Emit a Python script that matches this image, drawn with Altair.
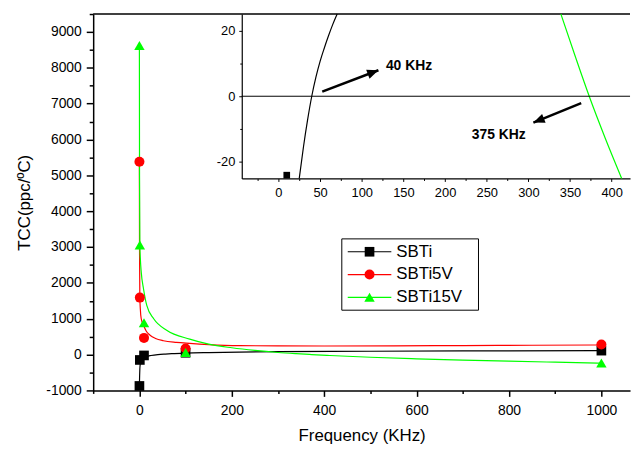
import altair as alt
import pandas as pd

FONT = "Liberation Sans"

series = ["SBTi", "SBTi5V", "SBTi15V"]
series_colors = ["#000000", "#ff0000", "#00ff00"]
series_shapes = ["square", "circle", "triangle-up"]
series_sizes = [95, 110, 145]

# measured points (frequency in KHz, TCC)
freq_points = [0.1, 1, 10, 100, 1000]
sbti_points = [-875, -150, -24, 50, 110]
sbti5v_points = [5380, 1590, 465, 170, 283]
sbti15v_points = [8620, 3060, 890, 55, -232]

# fitted curves (main panel)
sbti_curve_x = [0, 0.5, 1, 2, 4, 8, 15, 25, 40, 56, 70, 100, 150, 216, 300, 500, 700, 1000]
sbti_curve_y = [-875, -600, -400, -250, -140, -80, -50, -25, 0, 15, 25, 40, 55, 70, 80, 92, 101, 110]
sbti5v_curve_x = [0, 0.3, 1, 2, 4, 9, 15, 23, 35, 52, 80, 109, 150, 216, 300, 400, 550, 700, 850, 1000]
sbti5v_curve_y = [5380, 3000, 1600, 1280, 1000, 818, 650, 541, 450, 387, 340, 312, 280, 250, 242, 240, 243, 252, 260, 268]
sbti15v_curve_x = [0, 0.3, 1, 2, 4, 9, 16, 31, 59, 109, 150, 200, 250, 300, 339, 373, 412, 500, 600, 700, 800, 900, 1000]
sbti15v_curve_y = [8620, 5000, 3060, 2700, 2300, 1830, 1370, 1000, 680, 430, 290, 190, 115, 58, 25, 0, -25, -75, -118, -155, -185, -212, -238]

# curves seen in the inset (zoom around TCC = 0)
inset_sbti_x = [25, 30, 35, 40, 45, 50, 55, 60, 65, 70.5]
inset_sbti_y = [-25, -15.5, -7.2, 0, 5.8, 10.6, 14.6, 18.3, 21.7, 25]
inset_sbti15v_x = [339, 356, 373, 392, 412]
inset_sbti15v_y = [25, 12.3, 0, -12.6, -25]

# annotations in the inset
ann_labels = ["40 KHz", "375 KHz"]
ann_text_x = [129, 232]
ann_text_y = [9.2, -11.7]
arrow_x0 = [52.6, 363.4]
arrow_y0 = [1.4, -2.1]
arrow_x1 = [120, 306]
arrow_y1 = [7.9, -8.0]

main_x_ticks = list(range(-100, 1001, 100))
main_y_ticks = list(range(-1000, 9501, 500))
inset_x_ticks = list(range(-25, 401, 25))
inset_y_ticks = [-20, -10, 0, 10, 20]

# ---------- tables ----------
points_df = pd.concat([
    pd.DataFrame({"series": s, "freq": freq_points, "tcc": v})
    for s, v in zip(series, [sbti_points, sbti5v_points, sbti15v_points])
])
curves_df = pd.concat([
    pd.DataFrame({"series": s, "freq": cx, "tcc": cy})
    for s, cx, cy in zip(series,
                         [sbti_curve_x, sbti5v_curve_x, sbti15v_curve_x],
                         [sbti_curve_y, sbti5v_curve_y, sbti15v_curve_y])
])
inset_df = pd.concat([
    pd.DataFrame({"series": "SBTi", "freq": inset_sbti_x, "tcc": inset_sbti_y}),
    pd.DataFrame({"series": "SBTi15V", "freq": inset_sbti15v_x, "tcc": inset_sbti15v_y}),
])
ann_df = pd.DataFrame({"label": ann_labels, "tx": ann_text_x, "ty": ann_text_y,
                       "x0": arrow_x0, "y0": arrow_y0, "x1": arrow_x1, "y1": arrow_y1})
legend_df = pd.DataFrame({"series": series})
one_row = pd.DataFrame({"k": [0]})

W, H = 542, 380

color_enc = alt.Color("series:N", scale=alt.Scale(domain=series, range=series_colors), legend=None)
shape_enc = alt.Shape("series:N", scale=alt.Scale(domain=series, range=series_shapes), legend=None)
size_enc = alt.Size("series:N", scale=alt.Scale(domain=series, range=series_sizes), legend=None)

# ---------- main panel ----------
ax_mx = alt.Axis(title="Frequency (KHz)", values=main_x_ticks,
                 labelExpr="datum.value % 200 == 0 ? '' + datum.value : ''",
                 tickSize={"condition": {"test": "datum.value % 200 == 0", "value": 6}, "value": 3},
                 labelFontSize=14, labelPadding=7, titleFontSize=17, titlePadding=11,
                 domainWidth=1.5, tickWidth=1.5, labelFlush=False, labelOverlap=False)
ax_my = alt.Axis(title="TCC(ppc/ºC)", values=main_y_ticks,
                 labelExpr="datum.value % 1000 == 0 ? '' + datum.value : ''",
                 tickSize={"condition": {"test": "datum.value % 1000 == 0", "value": 7}, "value": 4},
                 labelFontSize=14, labelPadding=5, titleFontSize=17, titlePadding=12,
                 domainWidth=1.5, tickWidth=1.5, labelFlush=False, labelOverlap=False)
xs_main = alt.Scale(domain=[-100, 1062], nice=False, zero=False)
ys_main = alt.Scale(domain=[-1000, 9500], nice=False, zero=False)
xm = alt.X("freq:Q", scale=xs_main, axis=ax_mx)
ym = alt.Y("tcc:Q", scale=ys_main, axis=ax_my)

main_lines = alt.Chart(curves_df).mark_line(strokeWidth=1.2, interpolate="monotone").encode(
    x=xm, y=ym, color=color_enc)
main_points = alt.Chart(points_df).mark_point(filled=True, opacity=1).encode(
    x=xm, y=ym, color=color_enc, shape=shape_enc, size=size_enc)
top_border = alt.Chart(one_row).mark_rule(color="black", strokeWidth=1.5).encode(
    x=alt.value(0), x2=alt.value(W), y=alt.value(0))
main = alt.layer(main_lines, main_points, top_border)

# ---------- inset ----------
IN_LEFT, IN_BOTTOM = 150, 166
ax_ix = alt.Axis(title=None, orient="bottom", offset=-(H - IN_BOTTOM), values=inset_x_ticks,
                 labelExpr="datum.value % 50 == 0 ? '' + datum.value : ''",
                 tickSize={"condition": {"test": "datum.value % 50 == 0", "value": 3}, "value": 2},
                 labelFontSize=13, labelPadding=5, domainWidth=1.2, tickWidth=1,
                 labelFlush=False, labelOverlap=False)
ax_iy = alt.Axis(title=None, orient="left", offset=-IN_LEFT, values=inset_y_ticks,
                 labelExpr="datum.value % 20 == 0 ? '' + datum.value : ''",
                 tickSize={"condition": {"test": "datum.value % 20 == 0", "value": 3}, "value": 2},
                 labelFontSize=13, labelPadding=4, domainWidth=1.2, tickWidth=1,
                 labelFlush=False, labelOverlap=False)
xs_in = alt.Scale(domain=[-44, 422], range=[IN_LEFT, W], nice=False, zero=False)
ys_in = alt.Scale(domain=[-25, 25], range=[IN_BOTTOM, 0], nice=False, zero=False)

inset_lines = alt.Chart(inset_df).mark_line(strokeWidth=1.2, interpolate="monotone").encode(
    x=alt.X("freq:Q", scale=xs_in, axis=ax_ix), y=alt.Y("tcc:Q", scale=ys_in, axis=ax_iy),
    color=color_enc)
inset_points = alt.Chart(points_df).mark_point(filled=True, opacity=1, size=45).transform_filter(
    "datum.freq >= -44 && datum.freq <= 422 && datum.tcc >= -25 && datum.tcc <= 25"
).encode(
    x=alt.X("freq:Q", scale=xs_in, axis=ax_ix), y=alt.Y("tcc:Q", scale=ys_in, axis=ax_iy),
    color=color_enc, shape=shape_enc)
zero_line = alt.Chart(one_row).mark_rule(color="black", strokeWidth=1).encode(
    y=alt.YDatum(0, type="quantitative", scale=ys_in, axis=ax_iy),
    x=alt.value(IN_LEFT), x2=alt.value(W))
arrow_lines = alt.Chart(ann_df).mark_rule(color="black", strokeWidth=2.5).encode(
    x=alt.X("x0:Q", scale=xs_in, axis=ax_ix), y=alt.Y("y0:Q", scale=ys_in, axis=ax_iy),
    x2="x1:Q", y2="y1:Q")
head_shape = "M0,0L0.42,1L-0.42,1Z"
head1 = alt.Chart(ann_df).transform_filter("datum.label == '40 KHz'").mark_point(
    shape=head_shape, size=520, filled=True, opacity=1, color="black", angle=69.3).encode(
    x=alt.X("x1:Q", scale=xs_in, axis=ax_ix), y=alt.Y("y1:Q", scale=ys_in, axis=ax_iy))
head2 = alt.Chart(ann_df).transform_filter("datum.label == '375 KHz'").mark_point(
    shape=head_shape, size=520, filled=True, opacity=1, color="black", angle=248.2).encode(
    x=alt.X("x1:Q", scale=xs_in, axis=ax_ix), y=alt.Y("y1:Q", scale=ys_in, axis=ax_iy))
ann_text = alt.Chart(ann_df).mark_text(align="left", baseline="middle", font=FONT,
                                       fontSize=14, fontWeight="bold", color="black").encode(
    x=alt.X("tx:Q", scale=xs_in, axis=ax_ix), y=alt.Y("ty:Q", scale=ys_in, axis=ax_iy),
    text="label:N")
inset = alt.layer(inset_lines, zero_line, inset_points, arrow_lines, head1, head2, ann_text)

# ---------- legend ----------
y_leg = alt.Y("series:N", scale=alt.Scale(domain=series, range=[228.5, 297.5]), axis=None)
leg_box = alt.Chart(one_row).mark_rect(fill="white", stroke="black", strokeWidth=1).encode(
    x=alt.value(251), x2=alt.value(389), y=alt.value(227), y2=alt.value(299))
leg_rules = alt.Chart(legend_df).mark_rule(strokeWidth=1.2).encode(
    y=y_leg, x=alt.value(257), x2=alt.value(301), color=color_enc)
leg_points = alt.Chart(legend_df).mark_point(filled=True, opacity=1).encode(
    y=y_leg, x=alt.value(279), color=color_enc, shape=shape_enc, size=size_enc)
leg_text = alt.Chart(legend_df).mark_text(align="left", baseline="middle", font=FONT,
                                          fontSize=17, color="black").encode(
    y=y_leg, x=alt.value(306), text="series:N")
legend = alt.layer(leg_box, leg_rules, leg_points, leg_text)

chart = alt.layer(main, inset, legend).resolve_scale(
    x="independent", y="independent"
).properties(
    width=W, height=H,
    padding={"left": 86, "top": 4, "right": 4, "bottom": 52},
    autosize=alt.AutoSizeParams(type="none"),
).configure_view(stroke="transparent").configure_axis(
    labelFont=FONT, titleFont=FONT, labelColor="black", titleColor="black",
    tickColor="black", domainColor="black", grid=False, titleFontWeight="normal"
)

chart.save("out.html", embed_options={"renderer": "svg", "actions": False})
